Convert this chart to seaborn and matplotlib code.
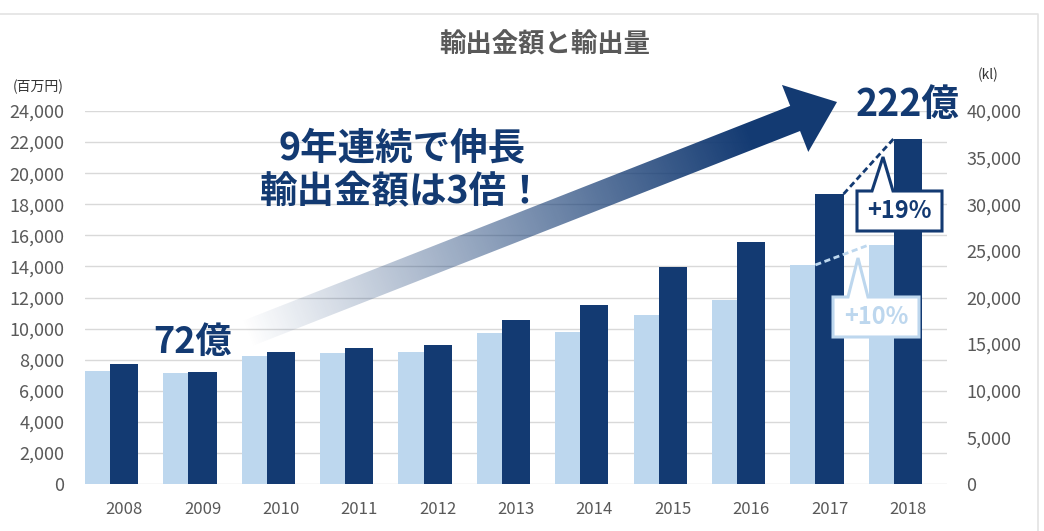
import numpy as np
import pandas as pd
import matplotlib
matplotlib.use("Agg")
import matplotlib.pyplot as plt
from matplotlib.patches import Polygon
from matplotlib.ticker import StrMethodFormatter
import seaborn as sns

YEARS = ["2008", "2009", "2010", "2011", "2012", "2013",
         "2014", "2015", "2016", "2017", "2018"]
# export amount, million yen (left axis)
AMOUNT = [7720, 7210, 8490, 8750, 8930, 10530, 11500, 13980, 15570, 18660, 22220]
# export volume, kl (right axis)
VOLUME = [12120, 11900, 13730, 14050, 14120, 16230, 16300, 18120, 19770, 23490, 25630]

TITLE = "輸出金額と輸出量"
LEFT_UNIT = "(百万円)"
RIGHT_UNIT = "(kl)"
HEADLINE = "9年連続で伸長\n輸出金額は3倍！"
START_LABEL = "72億"
END_LABEL = "222億"
AMOUNT_GROWTH = "+19%"
VOLUME_GROWTH = "+10%"

NAVY = "#133a72"
LIGHT = "#bdd7ee"
GRAY = "#595959"
GRID = "#d9d9d9"

sns.set_theme(style="white")
plt.rcParams["font.family"] = ["Noto Sans CJK JP", "DejaVu Sans"]

df = pd.DataFrame({"year": YEARS, "amount": AMOUNT, "volume": VOLUME})

W, H = 1044, 531
fig = plt.figure(figsize=(W / 100, H / 100), dpi=100)
ax = fig.add_axes([85 / W, 47 / H, 862 / W, 373 / H])
ax2 = ax.twinx()

sns.barplot(data=df, x="year", y="amount", color=NAVY, saturation=1,
            width=0.36, errorbar=None, linewidth=0, ax=ax)
sns.barplot(data=df, x="year", y="volume", color=LIGHT, saturation=1,
            width=0.32, errorbar=None, linewidth=0, ax=ax2)
# volume bars sit just left of the amount bars
for p in ax2.patches:
    p.set_x(p.get_x() - 0.34)

ax.set_xlim(-0.5, 10.5)
ax.set_ylim(0, 24000)
ax2.set_ylim(0, 40000)
ax.set_yticks(range(0, 24001, 2000))
ax2.set_yticks(range(0, 40001, 5000))
ax.yaxis.set_major_formatter(StrMethodFormatter("{x:,.0f}"))
ax2.yaxis.set_major_formatter(StrMethodFormatter("{x:,.0f}"))
ax.yaxis.grid(True, color=GRID, lw=1)
ax.xaxis.grid(False)
ax2.grid(False)
ax.set_axisbelow(True)
for a in (ax, ax2):
    a.set_xlabel("")
    a.set_ylabel("")
    for s in a.spines.values():
        s.set_visible(False)
ax.tick_params(axis="y", length=0, pad=15, labelsize=13, labelcolor=GRAY)
ax.tick_params(axis="x", length=0, pad=12, labelsize=12, labelcolor=GRAY)
ax2.tick_params(axis="y", length=0, pad=14, labelsize=13, labelcolor=GRAY)

# year-on-year connectors between the last two years
ax.plot([9 + 0.18, 10 - 0.18], [AMOUNT[9], AMOUNT[10]],
        ls=(0, (2.2, 1.3)), color=NAVY, lw=2)
ax2.plot([9 - 0.18, 10 - 0.5], [VOLUME[9], VOLUME[10]],
         ls=(0, (2.2, 1.3)), color=LIGHT, lw=2)

# --- overlay in pixel coordinates for annotations ---
ov = fig.add_axes([0, 0, 1, 1])
ov.set_zorder(5)
ov.axis("off")

ov.plot([0, 1038, 1038], [14, 14, H], color="#e3e3e3", lw=1.2)

# gradient arrow
tail = np.array([246.0, 334.0])
tip = np.array([837.0, 102.0])
d = tip - tail
L = np.hypot(*d)
u = d / L
n = np.array([-u[1], u[0]])
base = tip - u * 45
verts = [tail + n * 13.5, base + n * 13.5, base + n * 36, tip,
         base - n * 36, base - n * 13.5, tail - n * 13.5]
arrow = Polygon(verts, closed=True, facecolor="none", edgecolor="none")
ov.add_patch(arrow)
x0, x1, y0, y1 = 225, 850, 70, 365
X, Y = np.meshgrid(np.arange(x0, x1), np.arange(y0, y1))
t = ((X - tail[0]) * u[0] + (Y - tail[1]) * u[1]) / L
rgba = np.zeros(X.shape + (4,))
rgba[..., :3] = matplotlib.colors.to_rgb(NAVY)
rgba[..., 3] = np.clip(t / 0.85, 0, 1)
im = ov.imshow(rgba, extent=(x0, x1, y1, y0), origin="upper",
               interpolation="bilinear", aspect="auto", zorder=2)
im.set_clip_path(arrow)

ov.set_xlim(0, W)
ov.set_ylim(H, 0)

ov.text(545, 45, TITLE, ha="center", va="center", fontsize=19,
        fontweight="bold", color=GRAY)
ov.text(38, 87, LEFT_UNIT, ha="center", va="center", fontsize=10, color="#333333")
ov.text(988, 75, RIGHT_UNIT, ha="center", va="center", fontsize=10, color="#333333")
ov.text(402, 170, HEADLINE, ha="center", va="center", fontsize=27,
        fontweight="bold", color=NAVY, linespacing=1.15, zorder=4)
ov.text(193, 342, START_LABEL, ha="center", va="center", fontsize=26,
        fontweight="bold", color=NAVY, zorder=4)
ov.text(908, 104, END_LABEL, ha="center", va="center", fontsize=27,
        fontweight="bold", color=NAVY, zorder=4)

# callouts
c19 = [(857, 191), (872, 191), (883, 157), (893, 191), (942, 191), (942, 231), (857, 231)]
c10 = [(833, 297), (848, 297), (858, 258), (868, 297), (919, 297), (919, 337), (833, 337)]
ov.add_patch(Polygon(c19, closed=True, facecolor="white", edgecolor=NAVY,
                     lw=2.2, joinstyle="miter", zorder=3))
ov.add_patch(Polygon(c10, closed=True, facecolor="white", edgecolor=LIGHT,
                     lw=2.2, joinstyle="miter", zorder=3))
ov.text(899.5, 211, AMOUNT_GROWTH, ha="center", va="center", fontsize=17,
        fontweight="bold", color=NAVY, zorder=4)
ov.text(876, 317, VOLUME_GROWTH, ha="center", va="center", fontsize=17,
        fontweight="bold", color=LIGHT, zorder=4)

fig.savefig("out.png", dpi=100)
